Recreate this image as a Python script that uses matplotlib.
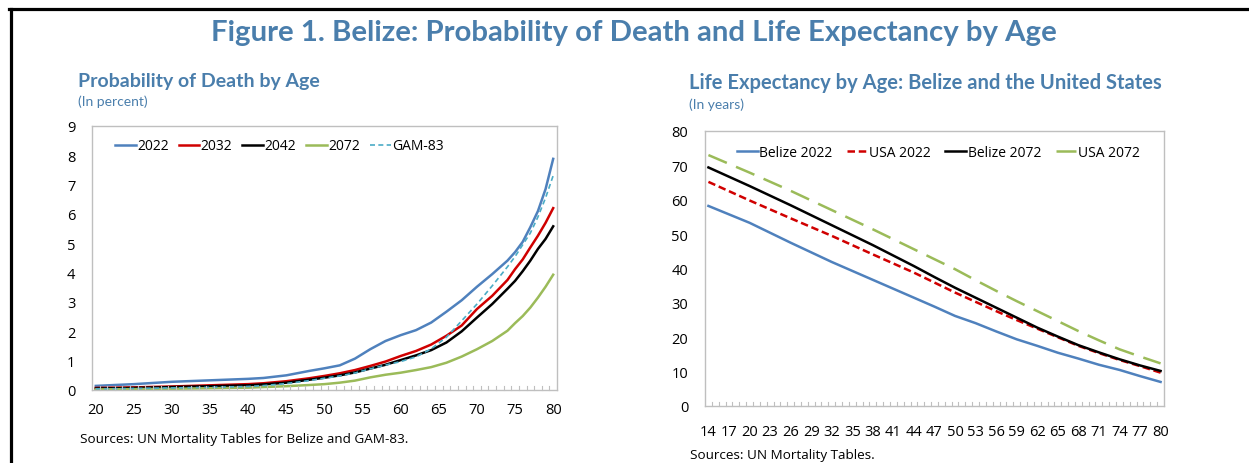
import numpy as np
import matplotlib
matplotlib.use('Agg')
import matplotlib.pyplot as plt
from matplotlib.lines import Line2D

plt.rcParams['font.family'] = ['Open Sans', 'DejaVu Sans']

# --- 左图数据：死亡概率（百分比）
ages_left = [20, 25, 30, 35, 40, 42, 45, 48, 50, 52, 54, 56, 58, 60, 62, 64, 66, 68,
             70, 72, 74, 75, 76, 77, 78, 79, 80]
p_2022 = [0.14, 0.20, 0.28, 0.33, 0.38, 0.41, 0.50, 0.65, 0.74, 0.84, 1.07, 1.39, 1.67,
          1.87, 2.04, 2.30, 2.67, 3.06, 3.52, 3.95, 4.41, 4.70, 5.05, 5.55, 6.10, 6.85, 7.88]
p_2032 = [0.07, 0.09, 0.12, 0.16, 0.20, 0.23, 0.30, 0.40, 0.48, 0.57, 0.68, 0.82, 0.97,
          1.16, 1.33, 1.55, 1.85, 2.20, 2.76, 3.21, 3.75, 4.12, 4.45, 4.86, 5.26, 5.70, 6.20]
p_2042 = [0.05, 0.07, 0.10, 0.13, 0.16, 0.19, 0.25, 0.35, 0.42, 0.50, 0.60, 0.73, 0.86,
          1.02, 1.18, 1.36, 1.62, 2.00, 2.47, 2.93, 3.45, 3.72, 4.05, 4.41, 4.81, 5.15, 5.58]
p_2072 = [0.02, 0.03, 0.04, 0.06, 0.08, 0.10, 0.13, 0.17, 0.20, 0.25, 0.32, 0.43, 0.52,
          0.59, 0.68, 0.78, 0.93, 1.14, 1.39, 1.67, 2.02, 2.28, 2.52, 2.81, 3.15, 3.52, 3.93]
p_gam83 = [0.04, 0.05, 0.07, 0.09, 0.12, 0.15, 0.22, 0.32, 0.40, 0.48, 0.58, 0.72, 0.85,
           0.97, 1.13, 1.40, 1.80, 2.36, 2.93, 3.55, 4.20, 4.55, 4.95, 5.35, 5.90, 6.55, 7.31]

# --- 右图数据：预期寿命（年）
ages_right = [14, 20, 26, 32, 35, 38, 44, 47, 50, 53, 56, 59, 62, 65, 68, 71, 74, 77, 80]
belize_2022 = [58.2, 53.3, 47.5, 41.9, 39.3, 36.7, 31.5, 28.9, 26.2, 24.1, 21.7, 19.4,
               17.5, 15.5, 13.8, 12.0, 10.5, 8.7, 7.0]
usa_2022 = [65.2, 59.8, 54.6, 49.5, 46.8, 44.1, 38.8, 35.9, 33.0, 30.3, 27.6, 25.0,
            22.5, 20.0, 17.5, 15.4, 13.4, 11.6, 9.7]
belize_2072 = [69.4, 64.0, 58.4, 52.6, 49.7, 46.8, 40.7, 37.5, 34.4, 31.5, 28.6, 25.7,
               22.8, 20.2, 17.7, 15.6, 13.6, 11.8, 10.2]
usa_2072 = [73.0, 67.9, 62.6, 57.0, 54.2, 51.4, 45.6, 42.7, 39.8, 36.6, 33.5, 30.5,
            27.6, 24.7, 21.8, 19.1, 16.5, 14.4, 12.4]

blue = '#4F81BD'
red = '#D00000'
cyan = '#4BACC6'
green = '#9BBB59'
title_blue = '#4A7EAC'
grid_gray = '#BFBFBF'

W, H = 1249, 464
fig = plt.figure(figsize=(W / 100, H / 100), dpi=100)


def px_axes(l, t, r, b):
    return fig.add_axes([l / W, 1 - b / H, (r - l) / W, (b - t) / H])


# 外框线
fig.add_artist(Line2D([9 / W, 1], [1 - 9.5 / H] * 2, color='black', lw=2.3,
                      transform=fig.transFigure))
fig.add_artist(Line2D([10.5 / W] * 2, [0, 1 - 9.5 / H], color='black', lw=2.3,
                      transform=fig.transFigure))

# 标题
fig.text(634 / W, 1 - 33 / H, 'Figure 1. Belize: Probability of Death and Life Expectancy by Age',
         ha='center', va='center', fontsize=21.2, fontweight='bold', color=title_blue,
         family=['Lato', 'DejaVu Sans'])
fig.text(78 / W, 1 - 82 / H, 'Probability of Death by Age', ha='left', va='center',
         fontsize=14, fontweight='bold', color=title_blue, family=['Lato', 'DejaVu Sans'])
fig.text(78 / W, 1 - 102 / H, '(In percent)', ha='left', va='center',
         fontsize=10, color=title_blue, family=['Lato', 'DejaVu Sans'])
fig.text(689 / W, 1 - 83 / H, 'Life Expectancy by Age: Belize and the United States', ha='left',
         va='center', fontsize=14.5, fontweight='bold', color=title_blue,
         family=['Lato', 'DejaVu Sans'])
fig.text(689 / W, 1 - 105 / H, '(In years)', ha='left', va='center',
         fontsize=10, color=title_blue, family=['Lato', 'DejaVu Sans'])

fig.text(80 / W, 1 - 440 / H, 'Sources: UN Mortality Tables for Belize and GAM-83.',
         ha='left', va='center', fontsize=9.7, color='black')
fig.text(690 / W, 1 - 456 / H, 'Sources: UN Mortality Tables.',
         ha='left', va='center', fontsize=9.7, color='black')


def style_axes(ax):
    for s in ax.spines.values():
        s.set_color(grid_gray)
        s.set_linewidth(1.0)
    ax.tick_params(axis='y', length=0, labelsize=10.5, pad=12)
    ax.tick_params(axis='x', which='both', length=0, labelsize=10.5)


# --- 左图
ax1 = px_axes(92, 127, 557, 391)
ax1.plot(ages_left, p_2022, color=blue, lw=1.8, label='2022')
ax1.plot(ages_left, p_2032, color=red, lw=1.8, label='2032')
ax1.plot(ages_left, p_2042, color='black', lw=1.8, label='2042')
ax1.plot(ages_left, p_2072, color=green, lw=1.8, label='2072')
ax1.plot(ages_left, p_gam83, color=cyan, lw=1.2, ls=(0, (3, 2)), label='GAM-83')
ax1.set_xlim(19.5, 80.5)
ax1.set_ylim(0, 9)
ax1.set_yticks(range(0, 10))
ax1.set_xticks(range(20, 81, 5))
style_axes(ax1)
ax1.tick_params(axis='x', pad=9)
for xb in np.arange(20.5, 80.5, 1):
    ax1.plot([xb, xb], [0, 0.13], color=grid_gray, lw=0.8, clip_on=False)
ax1.legend(loc='upper left', bbox_to_anchor=(0.022, 1.0), ncol=5, frameon=False,
           fontsize=10, handlelength=1.5, handletextpad=0.1, columnspacing=0.72)

# --- 右图
ax2 = px_axes(705, 132, 1164, 407)
ax2.plot(ages_right, belize_2022, color=blue, lw=1.8, label='Belize 2022')
ax2.plot(ages_right, usa_2022, color=red, lw=1.8, ls=(0, (3, 1.5)), label='USA 2022')
ax2.plot(ages_right, belize_2072, color='black', lw=1.8, label='Belize 2072')
ax2.plot(ages_right, usa_2072, color=green, lw=1.8, ls=(0, (8, 4)), label='USA 2072')
ax2.set_xlim(13.5, 80.5)
ax2.set_ylim(0, 80)
ax2.set_yticks(range(0, 81, 10))
ax2.set_xticks(range(14, 81, 3))
style_axes(ax2)
ax2.tick_params(axis='x', pad=13)
for xb in np.arange(14.5, 80.5, 1):
    ax2.plot([xb, xb], [0, 1.2], color=grid_gray, lw=0.8, clip_on=False)
ax2.legend(loc='upper left', bbox_to_anchor=(0.042, 0.995), ncol=4, frameon=False,
           fontsize=10, handlelength=1.5, handletextpad=0.1, columnspacing=1.05)

fig.savefig('out.png', dpi=100)
